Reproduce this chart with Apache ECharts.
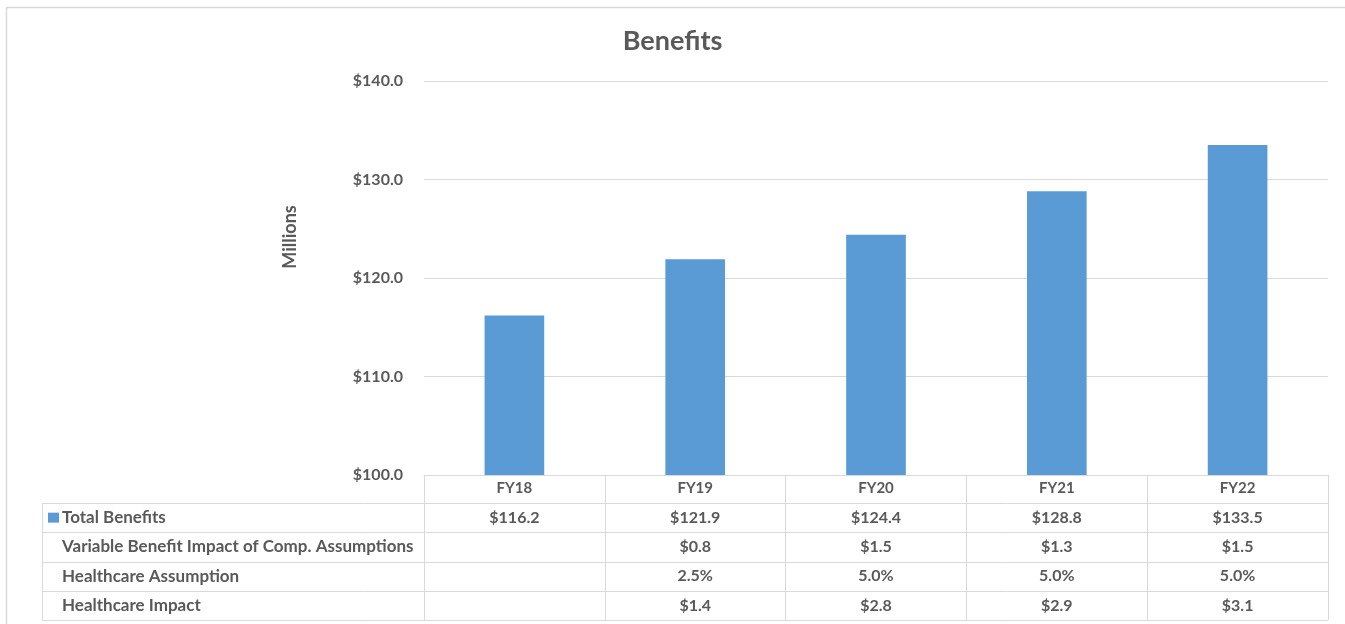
<!DOCTYPE html>
<html><head><meta charset="utf-8">
<script src="https://cdn.jsdelivr.net/npm/echarts@6/dist/echarts.min.js"></script>
<style>html,body{margin:0;padding:0;background:#fff}#chart{width:1345px;height:624px}</style>
</head><body><div id="chart"></div>
<script>
// Benefits by fiscal year (millions) with a supporting data table
const categories = ['FY18', 'FY19', 'FY20', 'FY21', 'FY22'];
const totalBenefits = [116.2, 121.9, 124.4, 128.8, 133.5];
const compImpact = [null, 0.8, 1.5, 1.3, 1.5];
const healthcareAssumption = [null, 2.5, 5.0, 5.0, 5.0];
const healthcareImpact = [null, 1.4, 2.8, 2.9, 3.1];
const rowNames = ['Total Benefits', 'Variable Benefit Impact of Comp. Assumptions', 'Healthcare Assumption', 'Healthcare Impact'];

const FONT = 'Lato';
const TEXT = '#595959';
const LINE = '#d9d9d9';
const BAR = '#5B9BD5';

const money = v => v == null ? '' : '$' + v.toFixed(1);
const pct = v => v == null ? '' : v.toFixed(1) + '%';
const tableRows = [
  { name: rowNames[0], values: totalBenefits, fmt: money, key: true },
  { name: rowNames[1], values: compImpact, fmt: money },
  { name: rowNames[2], values: healthcareAssumption, fmt: pct },
  { name: rowNames[3], values: healthcareImpact, fmt: money }
];

const chart = echarts.init(document.getElementById('chart'), null, { renderer: 'canvas' });
const baseText = { color: TEXT, fontFamily: FONT, fontWeight: 'bold' };

chart.setOption({
  animation: false,
  title: {
    text: 'Benefits', left: 'center', top: 23,
    textStyle: Object.assign({}, baseText, { fontSize: 27 })
  },
  grid: { left: 424, right: 17, top: 81, bottom: 149 },
  xAxis: {
    type: 'category', data: categories, boundaryGap: true,
    axisLine: { show: true, lineStyle: { color: LINE, width: 1 } },
    axisTick: { show: true, interval: 0, length: 145, lineStyle: { color: LINE } },
    axisLabel: Object.assign({}, baseText, { fontSize: 15, margin: 6 })
  },
  yAxis: {
    type: 'value', min: 100, max: 140, interval: 10,
    axisLine: { show: false }, axisTick: { show: false },
    splitLine: { lineStyle: { color: LINE } },
    axisLabel: Object.assign({}, baseText, { fontSize: 16, margin: 21, formatter: v => '$' + v.toFixed(1) })
  },
  series: [{
    name: 'Total Benefits', type: 'bar', data: totalBenefits,
    barWidth: '33%', itemStyle: { color: BAR }
  }]
});

// Data table under the plot, aligned to the category axis
const ROW_H = 29.3;
const TABLE_LEFT = 42;
const axisY = chart.convertToPixel({ yAxisIndex: 0 }, 100);
const plotRight = chart.getWidth() - 17;
const rowsTop = axisY + 28;

const graphic = [];
// outer frame
graphic.push({ type: 'rect', shape: { x: 6.5, y: 7.5, width: 1400, height: 700 }, style: { fill: null, stroke: LINE, lineWidth: 1.5 }, silent: true });
// axis title
graphic.push({
  type: 'text', x: 290, y: 237, rotation: Math.PI / 2,
  style: { text: 'Millions', fill: TEXT, font: 'bold 18px ' + FONT, align: 'center', verticalAlign: 'middle' }
});
// horizontal rules
for (let i = 0; i <= tableRows.length; i++) {
  const y = Math.round(rowsTop + i * ROW_H) + 0.5;
  graphic.push({ type: 'line', shape: { x1: TABLE_LEFT, y1: y, x2: plotRight, y2: y }, style: { stroke: LINE, lineWidth: 1 } });
}
// left border of the row-name column
graphic.push({ type: 'line', shape: { x1: TABLE_LEFT + 0.5, y1: Math.round(rowsTop) + 0.5, x2: TABLE_LEFT + 0.5, y2: Math.round(rowsTop + tableRows.length * ROW_H) + 0.5 }, style: { stroke: LINE, lineWidth: 1 } });

tableRows.forEach((row, r) => {
  const cy = rowsTop + (r + 0.5) * ROW_H;
  if (row.key) {
    graphic.push({ type: 'rect', shape: { x: 48, y: cy - 5, width: 11, height: 10 }, style: { fill: BAR } });
  }
  graphic.push({
    type: 'text', x: 62, y: cy,
    style: { text: row.name, fill: TEXT, font: 'bold 17px ' + FONT, align: 'left', verticalAlign: 'middle' }
  });
  row.values.forEach((v, c) => {
    const cx = chart.convertToPixel({ xAxisIndex: 0 }, categories[c]);
    graphic.push({
      type: 'text', x: cx, y: cy,
      style: { text: row.fmt(v), fill: TEXT, font: 'bold 16px ' + FONT, align: 'center', verticalAlign: 'middle' }
    });
  });
});

chart.setOption({ graphic: graphic });
</script>
</body></html>
